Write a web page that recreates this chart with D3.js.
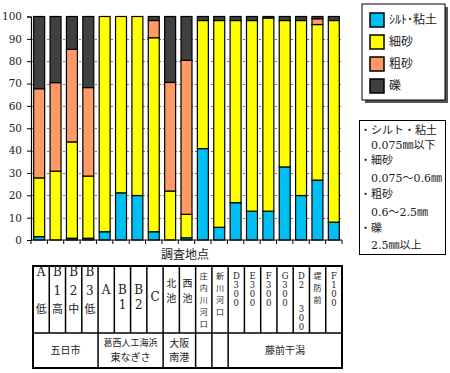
<!DOCTYPE html>
<html>
<head>
<meta charset="utf-8">
<script src="https://cdn.jsdelivr.net/npm/d3@7"></script>
<style>
  body { margin: 0; background: #fff; }
  svg { display: block; }
  text { fill: #222; }
</style>
</head>
<body>
<svg id="plot" width="450" height="373"></svg>
<script>
// survey sites (one bar per site)
const sites = ["A低", "B1高", "B2中", "B3低", "A", "B1", "B2", "C", "北池", "西池",
    "庄内川河口", "新川河口", "D300", "E300", "F300", "G300", "D2 300", "堤防前", "F100"];

// percentage of each grain size class
const silt   = [1.5, 0, 0.8, 0.8, 3.7, 21.1, 19.9, 3.7, 0, 1.0, 40.9, 5.7, 16.7, 12.9, 12.9, 32.7, 19.9, 26.8, 8.0];
const fine   = [26.3, 30.8, 43.1, 27.8, 96.3, 78.9, 80.1, 86.8, 21.9, 10.5, 57.3, 92.5, 81.5, 85.3, 86.4, 65.5, 78.3, 69.6, 90.2];
const coarse = [39.9, 39.6, 41.4, 39.6, 0, 0, 0, 7.7, 48.6, 68.9, 0, 0, 0, 0, 0, 0, 0, 2.6, 0];
const gravel = [32.3, 29.6, 14.7, 31.8, 0, 0, 0, 1.8, 29.5, 19.6, 1.8, 1.8, 1.8, 1.8, 0.7, 1.8, 1.8, 1.0, 1.8];

const yTicks = [0, 10, 20, 30, 40, 50, 60, 70, 80, 90, 100];
const seriesKeys = ["silt", "fine", "coarse", "gravel"];
const legendLabels = ["ｼﾙﾄ･粘土", "細砂", "粗砂", "礫"];
const colors = { silt: "#00bff3", fine: "#ffff00", coarse: "#ff9966", gravel: "#404040" };

// table under the chart
const colLabels = [
    ["A", "", "低"], ["B", "1", "高"], ["B", "2", "中"], ["B", "3", "低"],
    ["A", ""], ["B", "1"], ["B", "2"], ["C"],
    ["北", "池"], ["西", "池"],
    ["庄", "内", "川", "河", "口"], ["新", "川", "河", "口"],
    ["D", "3", "0", "0"], ["E", "3", "0", "0"], ["F", "3", "0", "0"], ["G", "3", "0", "0"],
    ["D", "2", "", "", "3", "0", "0"], ["堤", "防", "前"], ["F", "1", "0", "0"]
];
const groupNames = [["五日市"], ["葛西人工海浜", "東なぎさ"], ["大阪", "南港"], [], [], ["藤前干潟"]];
const groupStart = [0, 4, 8, 10, 11, 12];
const groupEnd   = [3, 7, 9, 10, 11, 18];

const defLines = ["・シルト・粘土", "0.075㎜以下", "・細砂", "0.075～0.6㎜", "・粗砂", "0.6～2.5㎜", "・礫", "2.5㎜以上"];

const serif = "'DejaVu Serif', 'Noto Sans CJK JP', serif";
const cjk = "'Noto Sans CJK JP', 'DejaVu Serif', sans-serif";

const plot = d3.select("svg#plot");

const rows = sites.map((s, i) => ({ site: s, silt: silt[i], fine: fine[i], coarse: coarse[i], gravel: gravel[i] }));

let x = d3.scaleBand()
    .domain(sites)
    .range([31, 342])
    .paddingInner(0.33)
    .paddingOuter(0.165);

let y = d3.scaleLinear()
    .domain([0, 100])
    .range([240, 16.5]);

// dotted gridlines
plot.append("g")
    .attr("id", "hLines")
    .selectAll("line")
    .data(yTicks.filter(t => t > 0 && t < 100))
    .join("line")
    .attr("x1", 31)
    .attr("x2", 342)
    .attr("y1", d => Math.round(y(d)) + 0.5)
    .attr("y2", d => Math.round(y(d)) + 0.5)
    .style("stroke", "#777")
    .style("stroke-dasharray", "2,2");

// stacked bars
let stacked = d3.stack().keys(seriesKeys)(rows);
let bars = plot.append("g").attr("id", "bars");
stacked.forEach(layer => {
    bars.append("g")
        .selectAll("rect")
        .data(layer.filter(d => d[1] - d[0] > 0))
        .join("rect")
        .attr("x", d => x(d.data.site))
        .attr("width", x.bandwidth())
        .attr("y", d => y(d[1]))
        .attr("height", d => y(d[0]) - y(d[1]))
        .attr("fill", colors[layer.key])
        .style("stroke", "#000")
        .style("stroke-width", 1.2);
});

// y axis
let yAxis = d3.axisLeft(y).tickValues(yTicks).tickSize(4).tickPadding(5);
let yg = plot.append("g")
    .attr("transform", "translate(31, 0)")
    .call(yAxis);
yg.select(".domain").style("stroke-width", 1.2);
yg.selectAll("text")
    .style("font-family", serif)
    .style("font-size", "10.5px")
    .style("fill", "#222");

// x axis: line with ticks at band boundaries
let step = x.step();
let xg = plot.append("g").attr("id", "xAxis");
xg.append("line")
    .attr("x1", 31).attr("x2", 342)
    .attr("y1", 240).attr("y2", 240)
    .style("stroke", "#000").style("stroke-width", 1.2);
xg.selectAll("line.tick")
    .data(d3.range(sites.length + 1))
    .join("line")
    .attr("class", "tick")
    .attr("x1", i => 31 + i * step)
    .attr("x2", i => 31 + i * step)
    .attr("y1", 240).attr("y2", 244)
    .style("stroke", "#000");

plot.append("text")
    .attr("x", 185)
    .attr("y", 259)
    .style("text-anchor", "middle")
    .style("font-family", cjk)
    .style("font-size", "12px")
    .text("調査地点");

// legend with shadow
let legend = plot.append("g").attr("id", "legend");
legend.append("rect")
    .attr("x", 365).attr("y", 7).attr("width", 83).attr("height", 96)
    .attr("fill", "#555");
legend.append("rect")
    .attr("x", 362).attr("y", 4).attr("width", 83).attr("height", 96)
    .attr("fill", "#fff").style("stroke", "#000").style("stroke-width", 1);
seriesKeys.forEach((k, i) => {
    legend.append("rect")
        .attr("x", 370).attr("y", 13 + i * 22)
        .attr("width", 14).attr("height", 14)
        .attr("fill", colors[k])
        .style("stroke", "#000").style("stroke-width", 1.5);
    legend.append("text")
        .attr("x", 389).attr("y", 20 + i * 22)
        .attr("dy", "0.35em")
        .style("font-family", cjk)
        .style("font-size", "12px")
        .text(legendLabels[i]);
});

// definitions box
let defs = plot.append("g").attr("id", "defs");
defs.append("rect")
    .attr("x", 359.5).attr("y", 120.5).attr("width", 86).attr("height", 134)
    .attr("fill", "#fff").style("stroke", "#000");
let defY = [130, 145, 160, 178, 194, 212, 228, 245];
defLines.forEach((t, i) => {
    defs.append("text")
        .attr("x", t.startsWith("・") ? 360 : 371)
        .attr("y", defY[i])
        .attr("dy", "0.35em")
        .style("font-family", t.startsWith("・") ? cjk : serif)
        .style("font-size", "11px")
        .text(t);
});

// table of sites
let tx = d3.scaleBand().domain(d3.range(sites.length)).range([33, 342]);
let table = plot.append("g").attr("id", "table");
let tTop = 266, tMid = 333, tBot = 368;

table.selectAll("line.col")
    .data(d3.range(1, sites.length))
    .join("line")
    .attr("class", "col")
    .attr("x1", i => tx(i)).attr("x2", i => tx(i))
    .attr("y1", tTop).attr("y2", tMid)
    .style("stroke", "#000").style("stroke-width", 1.5);

table.selectAll("line.grp")
    .data(groupStart.slice(1))
    .join("line")
    .attr("class", "grp")
    .attr("x1", i => tx(i)).attr("x2", i => tx(i))
    .attr("y1", tMid).attr("y2", tBot)
    .style("stroke", "#000").style("stroke-width", 1.5);

table.append("line")
    .attr("x1", 33).attr("x2", 342)
    .attr("y1", tMid).attr("y2", tMid)
    .style("stroke", "#000").style("stroke-width", 1.5);

table.append("rect")
    .attr("x", 33).attr("y", tTop)
    .attr("width", 309).attr("height", tBot - tTop)
    .attr("fill", "none")
    .style("stroke", "#000").style("stroke-width", 2);

const isCjk = s => /[\u3000-\u9fff]/.test(s);

colLabels.forEach((lines, i) => {
    let cx = tx(i) + tx.bandwidth() / 2;
    let start, stepL, stepC, stepB, sizeL, sizeC;
    if (i < 4) { start = 272; stepL = 18.5; stepC = 18.5; stepB = 18.5; sizeL = 12; sizeC = 11; }
    else if (i < 8) { start = 297 - (lines.length - 1) * 7.5; stepL = 15; stepC = 15; stepB = 15; sizeL = 12; sizeC = 11; }
    else if (i < 10) { start = 283; stepL = 15; stepC = 15; stepB = 15; sizeL = 12; sizeC = 10; }
    else { start = 276; stepL = 9; stepC = 12; stepB = 7.5; sizeL = 8.5; sizeC = 8; }
    let yy = start;
    lines.forEach(ch => {
        if (ch === "") { yy += stepB; return; }
        table.append("text")
            .attr("x", cx)
            .attr("y", yy)
            .attr("dy", "0.35em")
            .style("text-anchor", "middle")
            .style("font-family", isCjk(ch) ? cjk : serif)
            .style("font-size", (isCjk(ch) ? sizeC : sizeL) + "px")
            .text(ch);
        yy += isCjk(ch) ? stepC : stepL;
    });
});

groupNames.forEach((lines, g) => {
    let cx = (tx(groupStart[g]) + tx(groupEnd[g]) + tx.bandwidth()) / 2;
    lines.forEach((t, j) => {
        table.append("text")
            .attr("x", cx)
            .attr("y", lines.length == 1 ? 350 : 343 + j * 14)
            .attr("dy", "0.35em")
            .style("text-anchor", "middle")
            .style("font-family", cjk)
            .style("font-size", (t.length > 4 ? 9 : 10) + "px")
            .text(t);
    });
});
</script>
</body>
</html>
